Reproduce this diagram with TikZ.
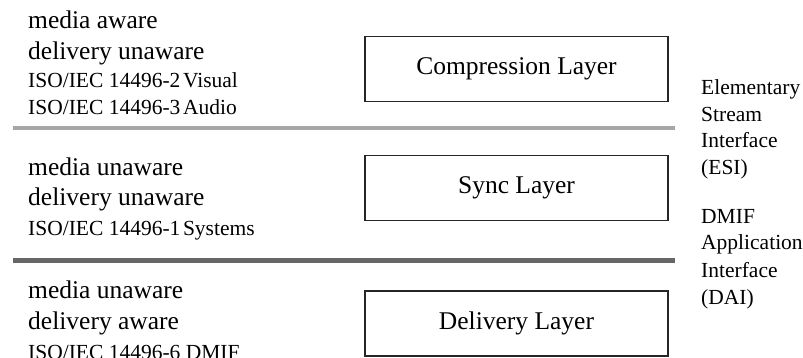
\documentclass[tikz,border=0pt]{standalone}
\usepackage{fontspec}
\setmainfont{Liberation Serif}
\begin{document}
\begin{tikzpicture}[x=1pt,y=-1pt,
  big/.style={font=\fontsize{25.5}{30}\selectfont, inner sep=0pt, anchor=base west},
  small/.style={font=\fontsize{21.5}{26}\selectfont, inner sep=0pt, anchor=base west},
  layerbox/.style={draw=black!85, line width=1.3pt, minimum width=303pt,
    minimum height=65pt, font=\fontsize{25.5}{30}\selectfont, inner sep=0pt},
  lightsep/.style={draw=black!35, line width=4.5pt},
  darksep/.style={draw=black!60, line width=5pt}]
\useasboundingbox (0,0) rectangle (803,358);

% layer boxes
\node[layerbox] (comp) at (516.5,69) {Compression Layer};
\node[layerbox] (sync) at (516.5,188) {Sync Layer};
\node[layerbox] (deliv) at (516.5,323.5) {Delivery Layer};

% separators between the layers
\coordinate (esiL) at (13,128);
\coordinate (esiR) at (675,128);
\coordinate (daiL) at (13,260);
\coordinate (daiR) at (675,260);
\draw[lightsep] (esiL) -- (esiR);
\draw[darksep] (daiL) -- (daiR);

% compression layer description
\node[big] (c1) at (28,29) {media aware};
\node[big] (c2) at (28,60) {delivery unaware};
\node[small] (c3) at (28,88) {ISO/IEC 14496-2\hspace{0.12em}Visual};
\node[small] (c4) at (28,115) {ISO/IEC 14496-3\hspace{0.12em}Audio};

% sync layer description
\node[big] (s1) at (28,176) {media unaware};
\node[big] (s2) at (28,206) {delivery unaware};
\node[small] (s3) at (28,236) {ISO/IEC 14496-1\hspace{0.12em}Systems};

% delivery layer description
\node[big] (d1) at (28,298) {media unaware};
\node[big] (d2) at (28,329) {delivery aware};
\node[small] (d3) at (28,359) {ISO/IEC 14496-6 DMIF};

% interface labels
\node[small] (e1) at (701,95) {Elementary};
\node[small] (e2) at (701,122) {Stream};
\node[small] (e3) at (701,148) {Interface};
\node[small] (e4) at (701,175) {(ESI)};
\node[small] (a1) at (701,223) {DMIF};
\node[small] (a2) at (701,250) {Application};
\node[small] (a3) at (701,277) {Interface};
\node[small] (a4) at (701,304) {(DAI)};
\end{tikzpicture}
\end{document}
